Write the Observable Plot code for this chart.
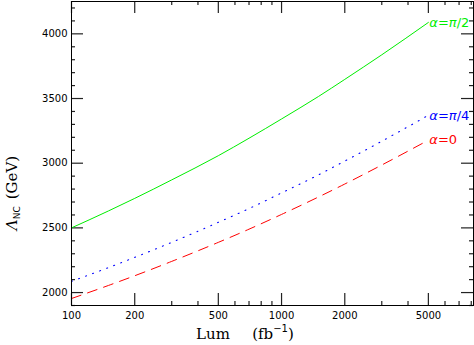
<!DOCTYPE html>
<html><head><meta charset="utf-8">
<script src="https://cdn.jsdelivr.net/npm/d3@7"></script>
<script src="https://cdn.jsdelivr.net/npm/@observablehq/plot@0.6"></script>
<style>body{margin:0;background:#fff} #chart svg{display:block}</style>
</head><body><div id="chart"></div>
<script>
// Data
const lum = [100, 150, 200, 300, 500, 700, 1000, 1500, 2000, 3000, 5000];
const alphaHalfPi = [2500, 2631, 2728, 2871, 3058, 3193, 3342, 3516, 3648, 3838, 4088];
const alphaQuarterPi = [2087, 2193, 2272, 2388, 2543, 2649, 2770, 2910, 3016, 3170, 3370];
const alphaZero = [1954, 2055, 2130, 2241, 2388, 2490, 2604, 2739, 2839, 2986, 3178];
const seriesNames = ["α=π/2", "α=π/4", "α=0"];
const seriesColors = ["#00ee00", "#0000ff", "#ff0000"];

const xMajor = [100, 200, 500, 1000, 2000, 5000];
const xMinor = [300, 400, 600, 700, 800, 900, 3000, 4000, 6000, 7000, 8000];
const yMajor = [2000, 2500, 3000, 3500, 4000];
const yMinor = [1900, 2100, 2200, 2300, 2400, 2600, 2700, 2800, 2900, 3100, 3200, 3300, 3400, 3600, 3700, 3800, 3900, 4100, 4200];

const W = 474, H = 345, mL = 71, mR = 1, mT = 1, mB = 40;
const iw = W - mL - mR, ih = H - mT - mB;

const toRows = vals => lum.map((L, i) => ({lum: L, v: vals[i]}));
const greenRows = toRows(alphaHalfPi);
const blueRows = toRows(alphaQuarterPi);
const redRows = toRows(alphaZero);
const ends = [alphaHalfPi, alphaQuarterPi, alphaZero].map((s, i) => ({
  lum: lum[lum.length - 1], v: s[s.length - 1], name: seriesNames[i], color: seriesColors[i]
}));

const tickStyle = {stroke: "#222", strokeWidth: 1.2};
const font = "DejaVu Sans";

const chart = Plot.plot({
  width: W, height: H,
  marginLeft: mL, marginRight: mR, marginTop: mT, marginBottom: mB,
  style: {background: "#fff"},
  x: {type: "log", domain: [100, 8200], axis: null},
  y: {domain: [1900, 4250], axis: null},
  marks: [
    // ticks on all four sides, pointing inward
    Plot.tickX(xMajor, {x: d => d, insetTop: ih - 12, ...tickStyle}),
    Plot.tickX(xMajor, {x: d => d, insetBottom: ih - 12, ...tickStyle}),
    Plot.tickX(xMinor, {x: d => d, insetTop: ih - 4, ...tickStyle}),
    Plot.tickX(xMinor, {x: d => d, insetBottom: ih - 4, ...tickStyle}),
    Plot.tickY(yMajor, {y: d => d, insetRight: iw - 12, ...tickStyle}),
    Plot.tickY(yMajor, {y: d => d, insetLeft: iw - 12, ...tickStyle}),
    Plot.tickY(yMinor, {y: d => d, insetRight: iw - 4, ...tickStyle}),
    Plot.tickY(yMinor, {y: d => d, insetLeft: iw - 4, ...tickStyle}),
    // tick labels
    Plot.text(xMajor, {x: d => d, frameAnchor: "bottom", dy: 10, lineAnchor: "middle",
      text: d => String(d), fontFamily: font, fontSize: 10, fill: "#000"}),
    Plot.text(yMajor, {y: d => d, frameAnchor: "left", dx: -4, textAnchor: "end",
      text: d => String(d), fontFamily: font, fontSize: 10, fill: "#000"}),
    // curves
    Plot.line(greenRows, {x: "lum", y: "v", stroke: seriesColors[0], strokeWidth: 1, curve: "monotone-x"}),
    Plot.line(blueRows, {x: "lum", y: "v", stroke: seriesColors[1], strokeWidth: 1.1, strokeDasharray: "1,6.5", curve: "monotone-x"}),
    Plot.line(redRows, {x: "lum", y: "v", stroke: seriesColors[2], strokeWidth: 1, strokeDasharray: "10,7", curve: "monotone-x"}),
    // curve labels
    Plot.text(ends, {x: "lum", y: "v", text: "name", fill: "color", textAnchor: "start", dx: 1,
      fontFamily: font, fontSize: 13}),
    Plot.frame({stroke: "#000", strokeWidth: 1})
  ]
});
document.getElementById("chart").append(chart);

const svg = d3.select(chart);
// slanted Greek letters in the curve labels
svg.selectAll("text").filter(function() { return this.textContent.startsWith("α"); }).each(function() {
  const t = d3.select(this);
  const s = this.textContent;
  t.text(null);
  for (const ch of s) {
    const sp = t.append("tspan").text(ch);
    if (ch === "α" || ch === "π") sp.attr("font-style", "italic");
  }
});

// axis titles with sub/superscripts
const xt = svg.append("text").attr("font-family", "DejaVu Serif").attr("font-size", 15).attr("fill", "#000")
  .attr("y", 339);
xt.append("tspan").attr("x", 213).text("Lum");
xt.append("tspan").attr("x", 273).text("(fb");
xt.append("tspan").attr("dy", -7).attr("font-size", 10).attr("font-family", font).text("−1");
xt.append("tspan").attr("dy", 7).text(")");

const yt = svg.append("text").attr("transform", "translate(17,193) rotate(-90)")
  .attr("font-family", "DejaVu Serif").attr("font-size", 15).attr("fill", "#000");
yt.append("tspan").attr("font-style", "italic").text("Λ");
yt.append("tspan").attr("dy", 3).attr("font-size", 9).attr("font-family", font).text("NC");
yt.append("tspan").attr("dy", -3).attr("dx", 7).text("(GeV)");
</script></body></html>
